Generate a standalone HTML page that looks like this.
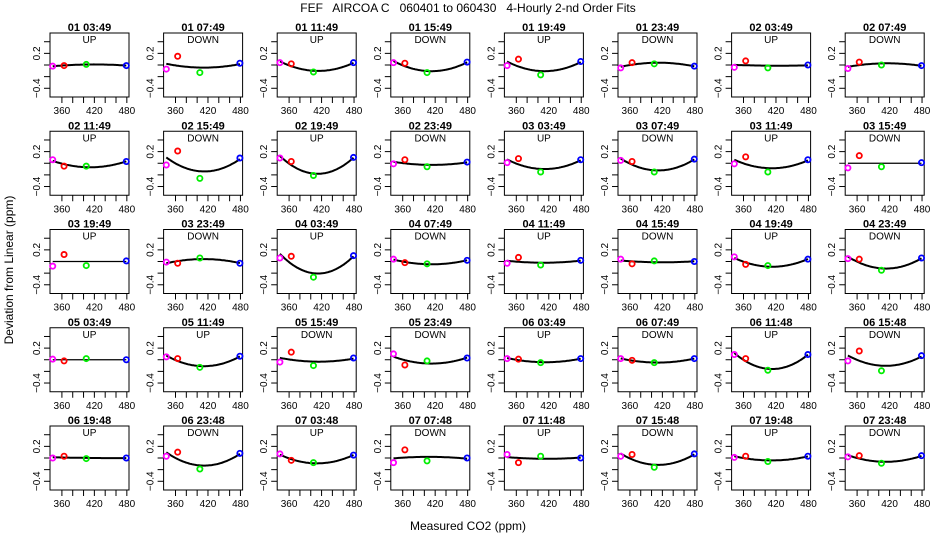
<!DOCTYPE html>
<html><head><meta charset="utf-8">
<style>
html,body{margin:0;padding:0;background:#fff;}
svg{display:block;font-family:"Liberation Sans",Arial,sans-serif;}
</style></head>
<body>
<svg id="chart" width="936" height="540" viewBox="0 0 936 540">
<text x="468" y="12" text-anchor="middle" font-size="12" style="white-space:pre" xml:space="preserve">FEF   AIRCOA C   060401 to 060430   4-Hourly 2-nd Order Fits</text>
<text x="0" y="0" transform="translate(13,270) rotate(-90)" text-anchor="middle" font-size="12">Deviation from Linear (ppm)</text>
<text x="468" y="530" text-anchor="middle" font-size="12">Measured CO2 (ppm)</text>
<g id="panels"></g>
</svg>
<script>
const titles=["01 03:49","01 07:49","01 11:49","01 15:49","01 19:49","01 23:49","02 03:49","02 07:49",
"02 11:49","02 15:49","02 19:49","02 23:49","03 03:49","03 07:49","03 11:49","03 15:49",
"03 19:49","03 23:49","04 03:49","04 07:49","04 11:49","04 15:49","04 19:49","04 23:49",
"05 03:49","05 11:49","05 15:49","05 23:49","06 03:49","06 07:49","06 11:48","06 15:48",
"06 19:48","06 23:48","07 03:48","07 07:48","07 11:48","07 15:48","07 19:48","07 23:48"];
const dirs=["UP","DOWN","UP","DOWN","UP","DOWN","UP","DOWN",
"UP","DOWN","UP","DOWN","UP","DOWN","UP","DOWN",
"UP","DOWN","UP","DOWN","UP","DOWN","UP","DOWN",
"UP","UP","DOWN","DOWN","UP","DOWN","UP","DOWN",
"UP","DOWN","UP","DOWN","UP","DOWN","UP","DOWN"];
const co2=[343,364,405,479];
const magentaVals=[-0.02,-0.07,0.04,0.04,-0.01,-0.05,-0.04,-0.06,0.06,-0.03,0.09,-0.01,0.01,0.05,-0.01,-0.08,-0.08,-0.01,0.06,0.04,-0.03,0.04,0.08,0.05,0.01,0.05,-0.04,0.10,0.02,0.02,0.09,-0.02,0,0.03,0.07,-0.08,0.06,0.03,0.01,0.02];
const redVals=[-0.01,0.15,0.02,0.03,0.10,0.04,0.07,0.05,-0.05,0.21,0.03,0.06,0.08,0.03,0.11,0.13,0.12,-0.03,0.09,-0.02,0.07,-0.04,-0.05,0.04,-0.02,0.02,0.13,-0.09,0.01,-0.01,0.02,0.15,0.03,0.10,-0.04,0.14,-0.08,0.06,0.03,0.04];
const greenVals=[0.01,-0.13,-0.12,-0.13,-0.17,0.02,-0.05,0,-0.05,-0.26,-0.21,-0.06,-0.15,-0.15,-0.15,-0.06,-0.07,0.06,-0.27,-0.04,-0.06,0.01,-0.07,-0.15,0.02,-0.13,-0.10,-0.02,-0.05,-0.05,-0.18,-0.19,-0.01,-0.19,-0.08,-0.05,0.03,-0.16,-0.06,-0.09];
const blueVals=[-0.01,0.03,0.04,0.05,0.06,-0.02,0,-0.01,0.03,0.09,0.10,0.02,0.06,0.07,0.06,0.01,0.01,-0.03,0.10,0.02,0.02,0,0.04,0.06,0,0.06,0.03,0.03,0.02,0.02,0.09,0.07,0,0.08,0.05,0,0,0.07,0.03,0.04];
const fitOk=[1,1,1,1,1,1,1,1,1,1,1,1,1,1,1,0,0,1,1,1,1,1,1,1,0,1,1,1,1,1,1,1,1,1,1,1,1,1,1,1];
const yTicks=[-0.4,-0.2,0,0.2,0.4];
const yLabels=["0.2","-0.4"];
const xTicks=[360,380,400,420,440,460,480];
const xLabels=[360,420,480];
const colors=["#ff00ff","#ff0000","#00ee00","#0000ff"];
const names=["magenta","red","green","blue"];

const NS="http://www.w3.org/2000/svg";
const root=document.getElementById('panels');
const W=79,H=64,X0=338,X1=484,Y0=-0.55,Y1=0.55;
function mk(tag,attrs,parent){const e=document.createElementNS(NS,tag);for(const k in attrs)e.setAttribute(k,attrs[k]);parent.appendChild(e);return e;}
function fit(xs,ys){
  const xm=410; let S=[[0,0,0],[0,0,0],[0,0,0]],b=[0,0,0];
  for(let i=0;i<xs.length;i++){const t=(xs[i]-xm)/100;const v=[1,t,t*t];
    for(let r=0;r<3;r++){b[r]+=v[r]*ys[i];for(let c=0;c<3;c++)S[r][c]+=v[r]*v[c];}}
  for(let i=0;i<3;i++){let p=S[i][i];for(let j=i+1;j<3;j++){const f=S[j][i]/p;for(let k=i;k<3;k++)S[j][k]-=f*S[i][k];b[j]-=f*b[i];}}
  const c=[0,0,0];for(let i=2;i>=0;i--){let s=b[i];for(let k=i+1;k<3;k++)s-=S[i][k]*c[k];c[i]=s/S[i][i];}
  return x=>{const t=(x-xm)/100;return c[0]+c[1]*t+c[2]*t*t;};
}
for(let p=0;p<titles.length;p++){
  const col=p%8,row=Math.floor(p/8);
  const L=50+col*113.6,T=33+row*98.25;
  const xs=x=>L+(x-X0)/(X1-X0)*W;
  const ys=v=>T+(Y1-v)/(Y1-Y0)*H;
  const g=mk('g',{},root);
  
  
  const tt=mk('text',{x:L+W/2,y:T-2,'text-anchor':'middle','font-size':'11','font-weight':'bold'},g);
  tt.textContent=titles[p];
  
  
  const dt=mk('text',{x:L+W/2,y:T+10,'text-anchor':'middle','font-size':'10'},g);
  dt.textContent=dirs[p];
  
  
  const box=mk('rect',{x:L,y:T,width:W,height:H,fill:'none',stroke:'#000','stroke-width':1},g);
  
  
  yTicks.forEach(v=>{mk('line',{x1:L-6,x2:L,y1:ys(v),y2:ys(v),stroke:'#000'},g);});
  yLabels.forEach(s=>{const v=parseFloat(s);const t=mk('text',{transform:`translate(${L-10},${ys(v)}) rotate(-90)`,'text-anchor':'middle','font-size':'10'},g);t.textContent=s.replace('-','\u2212');
    
    });
  xTicks.forEach(v=>{mk('line',{x1:xs(v),x2:xs(v),y1:T+H,y2:T+H+6,stroke:'#000'},g);});
  xLabels.forEach(v=>{const t=mk('text',{x:xs(v),y:T+H+17,'text-anchor':'middle','font-size':'10'},g);t.textContent=v;
    
    });
  const vals=[magentaVals[p],redVals[p],greenVals[p],blueVals[p]];
  let d='';
  if(fitOk[p]){const f=fit(co2,vals);
    for(let x=co2[0];x<=co2[3];x+=2){d+=(d?'L':'M')+xs(x).toFixed(1)+','+ys(f(x)).toFixed(1);} }
  else{d='M'+xs(co2[0])+','+ys(0)+'L'+xs(co2[3])+','+ys(0);}
  const cv=mk('path',{d:d,fill:'none',stroke:'#000','stroke-width':fitOk[p]?2:1.2},g);
  
  
  for(let i=0;i<4;i++){
    const c=mk('circle',{cx:xs(co2[i]),cy:ys(vals[i]),r:2.6,fill:'none',stroke:colors[i],'stroke-width':1.8},g);
    
    
  }
}
</script>
</body></html>
